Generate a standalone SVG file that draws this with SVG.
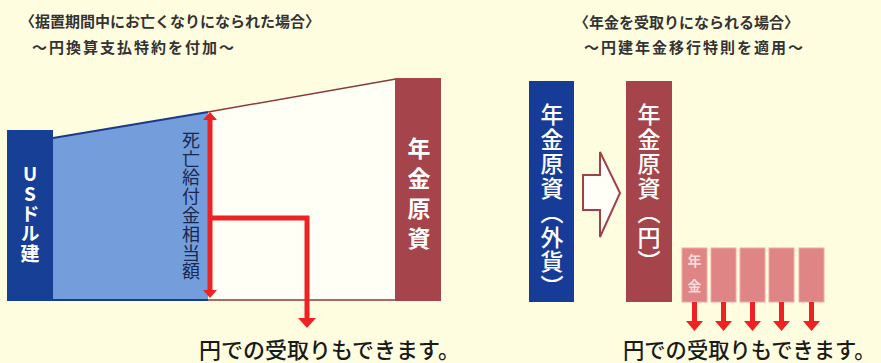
<svg xmlns="http://www.w3.org/2000/svg" width="881" height="363" viewBox="0 0 881 363">
<defs>
<style>
text{font-family:"Noto Sans CJK JP","Noto Sans",sans-serif;}
.title{font-size:15px;font-weight:700;fill:#333;}
.sub{font-size:15px;font-weight:700;fill:#333;letter-spacing:2px;}
.note{font-size:22px;font-weight:500;fill:#1a1a1a;}
.vt{writing-mode:vertical-rl;fill:#fff;}
.red{fill:none;stroke:#ee2222;stroke-width:5;}
.head{fill:#ee2222;}
</style>
</defs>
<rect width="881" height="363" fill="#fffde0"/>
<g id="titles">
<text class="title" x="20" y="27">〈据置期間中にお亡くなりになられた場合〉</text>
<text class="sub" x="32" y="53">～円換算支払特約を付加～</text>
<text class="title" x="574" y="28">〈年金を受取りになられる場合〉</text>
<text class="sub" x="584" y="53">～円建年金移行特則を適用～</text>
</g>
<g id="usd-area">
<polygon points="53,138 208,112 208,300 53,300" fill="#739ddb"/>
<line x1="53" y1="138" x2="208" y2="112" stroke="#1a3a8a" stroke-width="2"/>
<line x1="7" y1="300" x2="208" y2="300" stroke="#1a3a8a" stroke-width="2"/>
</g>
<g id="yen-area">
<polygon points="208,112 396,79 396,300 208,300" fill="#fffff6"/>
<line x1="208" y1="112" x2="396" y2="79" stroke="#8a3a3a" stroke-width="1.5"/>
<line x1="208" y1="300" x2="441" y2="300" stroke="#8a3a3a" stroke-width="1.5"/>
</g>
<g id="usd-box">
<rect x="7" y="130" width="46" height="171" fill="#173f96"/>
<text class="vt" x="30" y="164" style="font-size:19px;font-weight:700;text-orientation:upright;letter-spacing:1px;">USドル建</text>
</g>
<g id="fund-left">
<rect x="395" y="78" width="46" height="223" fill="#a5444a"/>
<text class="vt" x="419" y="137" style="font-size:23px;font-weight:700;letter-spacing:7px;">年金原資</text>
</g>
<g id="death-benefit">
<text x="191" y="131" style="writing-mode:vertical-rl;font-size:18px;fill:#1a2850;letter-spacing:0.8px;">死亡給付金相当額</text>
</g>
<g id="fund-foreign">
<rect x="529" y="81" width="45" height="221" fill="#173c97"/>
<text class="vt" x="552" y="103" style="font-size:23px;font-weight:500;letter-spacing:1.5px;">年金原資（外貨）</text>
</g>
<g id="fund-yen">
<rect x="626" y="81" width="46" height="221" fill="#a5444a"/>
<text class="vt" x="649" y="103" style="font-size:23px;font-weight:500;letter-spacing:1.5px;">年金原資（円）</text>
</g>
<g id="annuity-boxes" fill="#e08585" stroke="#eeaaaa" stroke-width="1">
<rect x="682" y="248" width="25" height="54"/>
<rect x="711" y="248" width="25" height="54"/>
<rect x="740" y="248" width="25" height="54"/>
<rect x="769" y="248" width="25" height="54"/>
<rect x="799" y="248" width="25" height="54"/>
</g>
<text x="694.5" y="254" style="writing-mode:vertical-rl;font-size:14px;font-weight:700;fill:#f8dada;letter-spacing:11px;">年金</text>
<g id="connectors">
<polygon points="583,175 600,175 600,152 620,193 600,237 600,210 583,210" fill="#fffff8" stroke="#a0404a" stroke-width="2"/>
<line class="red" x1="210" y1="118" x2="210" y2="292"/>
<polygon class="head" points="210,112 203,120 217,120"/>
<polygon class="head" points="210,298 203,290 217,290"/>
<polyline class="red" points="210,218 307,218 307,320"/>
<polygon class="head" points="307,328 298,318 316,318"/>
<line class="red" x1="694.5" y1="302" x2="694.5" y2="324"/>
<polygon class="head" points="694.5,331 686,321 703,321"/>
<line class="red" x1="723.5" y1="302" x2="723.5" y2="324"/>
<polygon class="head" points="723.5,331 715,321 732,321"/>
<line class="red" x1="752.5" y1="302" x2="752.5" y2="324"/>
<polygon class="head" points="752.5,331 744,321 761,321"/>
<line class="red" x1="781.5" y1="302" x2="781.5" y2="324"/>
<polygon class="head" points="781.5,331 773,321 790,321"/>
<line class="red" x1="811.5" y1="302" x2="811.5" y2="324"/>
<polygon class="head" points="811.5,331 803,321 820,321"/>
</g>
<g id="notes">
<text class="note" x="199" y="358">円での受取りもできます。</text>
<text class="note" x="623" y="358" style="font-size:21.3px;">円での受取りもできます。</text>
</g>
</svg>
